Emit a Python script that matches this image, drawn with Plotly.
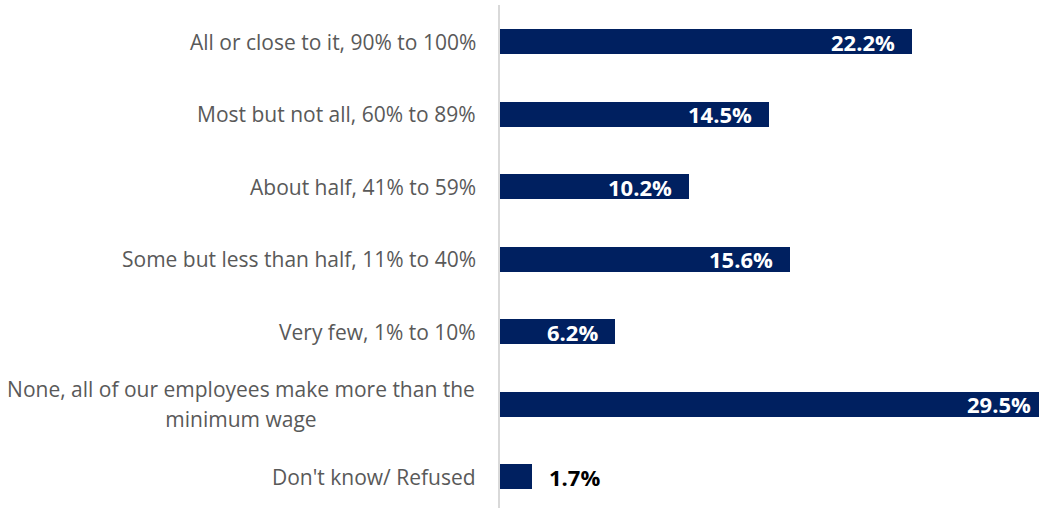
import plotly.graph_objects as go

# Survey responses: share of employees earning the minimum wage
categories = [
    "All or close to it, 90% to 100%",
    "Most but not all, 60% to 89%",
    "About half, 41% to 59%",
    "Some but less than half, 11% to 40%",
    "Very few, 1% to 10%",
    "None, all of our employees make more than the minimum wage",
    "Don't know/ Refused",
]
values = [22.2, 14.5, 10.2, 15.6, 6.2, 29.5, 1.7]
value_labels = ["22.2%", "14.5%", "10.2%", "15.6%", "6.2%", "29.5%", "1.7%"]
# Category text split over lines where the label wraps
label_lines = {
    "None, all of our employees make more than the minimum wage": [
        "None, all of our employees make more than the",
        "minimum wage",
    ],
}

BAR_COLOR = "#002060"
LABEL_COLOR = "#595959"
FONT = "Open Sans"
X_MAX = 29.04  # visible extent of the value axis; the largest bar runs past it

W, H = 1039, 508
fig = go.Figure()
fig.add_trace(go.Bar(
    x=values,
    y=categories,
    orientation="h",
    marker=dict(color=BAR_COLOR, line=dict(width=0)),
    width=0.345,
    hoverinfo="skip",
))

annotations = []
for cat, val, txt in zip(categories, values, value_labels):
    frac = val / X_MAX
    if val >= 5:
        annotations.append(dict(
            x=frac, xref="paper", y=cat, yref="y", text=txt, showarrow=False,
            xanchor="right", yanchor="middle", xshift=-15,
            font=dict(family=FONT, size=22, color="white", weight="bold"),
        ))
    else:
        annotations.append(dict(
            x=frac, xref="paper", y=cat, yref="y", text=txt, showarrow=False,
            xanchor="left", yanchor="middle", xshift=15,
            font=dict(family=FONT, size=22, color="black", weight="bold"),
        ))

    lines = label_lines.get(cat, [cat])
    n = len(lines)
    for i, line in enumerate(lines):
        annotations.append(dict(
            x=0, xref="paper", y=cat, yref="y", text=line, showarrow=False,
            xanchor="right", yanchor="middle", xshift=-22,
            yshift=(n - 1) * 15 - i * 30,
            width=470 if n > 1 else None, align="center" if n > 1 else "right",
            font=dict(family=FONT, size=21, color=LABEL_COLOR),
        ))

fig.update_layout(
    width=W, height=H,
    margin=dict(l=500, r=0, t=5, b=0),
    paper_bgcolor="white", plot_bgcolor="white",
    showlegend=False,
    bargap=0.0,
    xaxis=dict(range=[0, X_MAX], showgrid=False, zeroline=False,
               showticklabels=False, showline=False, fixedrange=True),
    yaxis=dict(categoryorder="array", categoryarray=categories,
               range=[6.428, -0.510], showgrid=False, zeroline=False,
               showticklabels=False, ticks="", showline=True,
               linecolor="#d9d9d9", linewidth=2, fixedrange=True),
    annotations=annotations,
)

fig.write_html("out.html", config={"displayModeBar": False})
